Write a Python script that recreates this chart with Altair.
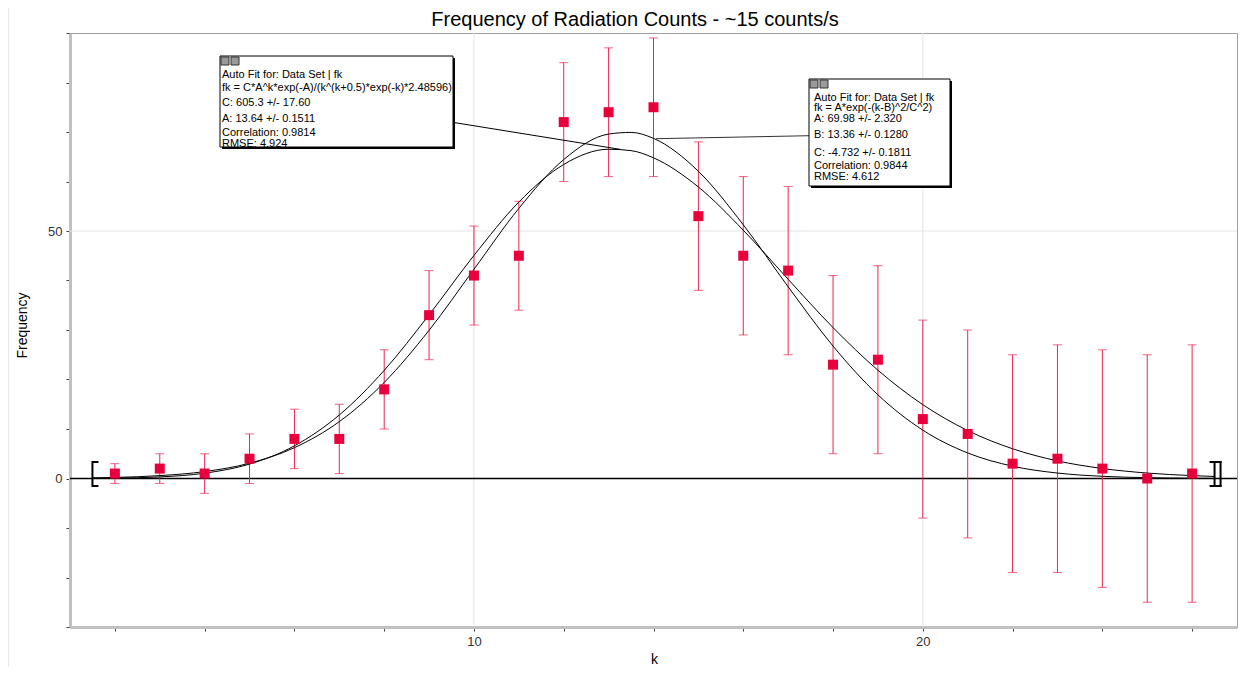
import altair as alt
import pandas as pd

# ---------------- data ----------------
k_obs = [2, 3, 4, 5, 6, 7, 8, 9, 10, 11, 12, 13, 14, 15, 16, 17, 18, 19, 20, 21, 22, 23, 24, 25, 26]
freq = [1, 2, 1, 4, 8, 8, 18, 33, 41, 45, 72, 74, 75, 53, 45, 42, 23, 24, 12, 9, 3, 4, 2, 0, 1]
err = [2, 3, 4, 5, 6, 7, 8, 9, 10, 11, 12, 13, 14, 15, 16, 17, 18, 19, 20, 21, 22, 23, 24, 25, 26]

curve_k = [1.5, 2, 3, 4, 5, 6, 7, 8, 9, 10, 11, 12, 13, 13.5, 14, 15, 16, 17, 18, 19, 20,
           21, 22, 23, 24, 25, 26, 26.5]
poisson_fit = [0.029, 0.0705, 0.316, 1.071, 2.910, 6.598, 12.83, 21.84, 33.07, 45.06, 55.85,
               63.44, 66.52, 66.24, 64.78, 58.89, 50.16, 40.25, 30.49, 21.88, 14.92, 9.69,
               6.01, 3.56, 2.02, 1.10, 0.579, 0.413]
gauss_fit = [0.131, 0.220, 0.580, 1.399, 3.086, 6.227, 11.49, 19.40, 29.94, 42.27, 54.57,
             64.43, 69.58, 69.92, 68.71, 62.06, 51.26, 38.73, 26.75, 16.90, 9.77, 5.16,
             2.49, 1.10, 0.446, 0.165, 0.056, 0.031]

fit_range = [1.5, 26.5]

x_ticks = [2, 4, 6, 8, 10, 12, 14, 16, 18, 20, 22, 24, 26]
y_ticks = [-30, -20, -10, 0, 10, 20, 30, 40, 50, 60, 70, 80, 90]
x_grid = [10, 20]
y_grid = [50]

title_text = "Frequency of Radiation Counts - ~15 counts/s"

box1_lines = ["Auto Fit for: Data Set | fk",
              "fk = C*A^k*exp(-A)/(k^(k+0.5)*exp(-k)*2.48596)",
              "C: 605.3 +/- 17.60",
              "A: 13.64 +/- 0.1511",
              "Correlation: 0.9814",
              "RMSE: 4.924"]
box2_lines = ["Auto Fit for: Data Set | fk",
              "fk = A*exp(-(k-B)^2/C^2)",
              "A: 69.98 +/- 2.320",
              "B: 13.36 +/- 0.1280",
              "C: -4.732 +/- 0.1811",
              "Correlation: 0.9844",
              "RMSE: 4.612"]

# ---------------- layout / style ----------------
W, H = 1167, 594
FONT = "Liberation Sans"
RED = "#e8003c"
ERR_RED = "#ec2451"

box1_y = [42, 54.5, 69.5, 86, 99.5, 111]
box2_y = [64.5, 75, 86, 102, 119.5, 133, 143.5]

obs = pd.DataFrame({"k": k_obs, "freq": freq, "err": err})
obs["lo"] = obs["freq"] - obs["err"]
obs["hi"] = obs["freq"] + obs["err"]

curves = pd.DataFrame({
    "k": curve_k * 2,
    "val": poisson_fit + gauss_fit,
    "fit": ["poisson"] * len(curve_k) + ["gauss"] * len(curve_k),
})

one = pd.DataFrame({"a": [0]})

xs = alt.Scale(domain=[1, 27], nice=False, zero=False)
ys = alt.Scale(domain=[-30, 90], nice=False, zero=False)

x_axis = alt.Axis(values=x_ticks, labelExpr="datum.value % 10 === 0 ? datum.label : ''",
                  title="k", titleX=584, titleY=32, titleBaseline="middle", grid=False)
y_axis = alt.Axis(values=y_ticks, labelExpr="datum.value % 50 === 0 ? datum.label : ''",
                  title="Frequency", titleX=-48, titleY=292, titleAngle=-90,
                  titleAlign="center", titleBaseline="middle", grid=False)


def X(f, **kw):
    return alt.X(f, scale=xs, axis=x_axis, **kw)


def Y(f, **kw):
    return alt.Y(f, scale=ys, axis=y_axis, **kw)


grid_x = alt.Chart(pd.DataFrame({"k": x_grid})).mark_rule(color="#e4e4e4", strokeWidth=1).encode(
    x=X("k:Q"))
grid_y = alt.Chart(pd.DataFrame({"freq": y_grid})).mark_rule(color="#e4e4e4", strokeWidth=1).encode(
    y=Y("freq:Q"))

zero_line = alt.Chart(pd.DataFrame({"freq": [0]})).mark_rule(color="black", strokeWidth=1.3).encode(
    y=Y("freq:Q"))

err_rules = alt.Chart(obs).mark_rule(color=ERR_RED, strokeWidth=1).encode(
    x=X("k:Q"), y=Y("lo:Q"), y2="hi:Q")
cap_lo = alt.Chart(obs).mark_tick(color=ERR_RED, orient="horizontal", size=9, thickness=1).encode(
    x=X("k:Q"), y=Y("lo:Q"))
cap_hi = alt.Chart(obs).mark_tick(color=ERR_RED, orient="horizontal", size=9, thickness=1).encode(
    x=X("k:Q"), y=Y("hi:Q"))

lines = alt.Chart(curves).mark_line(color="black", strokeWidth=1, interpolate="monotone").encode(
    x=X("k:Q"), y=Y("val:Q"), detail="fit:N")

points = alt.Chart(obs).mark_square(size=100, color=RED, opacity=1).encode(
    x=X("k:Q"), y=Y("freq:Q"))

# fit-range brackets
fr = pd.DataFrame({"k": [fit_range[0]]})
fr2 = pd.DataFrame({"k": [fit_range[1]]})
BT, BB = 428, 454
br_layers = [
    alt.Chart(fr).mark_rule(color="black", strokeWidth=2).encode(
        x=X("k:Q"), y=alt.value(BT), y2=alt.value(BB)),
    alt.Chart(fr).mark_rule(color="black", strokeWidth=2, x2Offset=6).encode(
        x=X("k:Q"), x2="k:Q", y=alt.value(BT + 1)),
    alt.Chart(fr).mark_rule(color="black", strokeWidth=2, x2Offset=6).encode(
        x=X("k:Q"), x2="k:Q", y=alt.value(BB - 1)),
    alt.Chart(fr2).mark_rule(color="black", strokeWidth=2).encode(
        x=X("k:Q"), y=alt.value(BT), y2=alt.value(BB)),
    alt.Chart(fr2).mark_rule(color="black", strokeWidth=2, xOffset=6).encode(
        x=X("k:Q"), y=alt.value(BT), y2=alt.value(BB)),
    alt.Chart(fr2).mark_rule(color="black", strokeWidth=2, xOffset=-5, x2Offset=7).encode(
        x=X("k:Q"), x2="k:Q", y=alt.value(BT + 1)),
    alt.Chart(fr2).mark_rule(color="black", strokeWidth=2, xOffset=-5, x2Offset=7).encode(
        x=X("k:Q"), x2="k:Q", y=alt.value(BB - 1)),
]

# leader lines
leaders = [
    alt.Chart(one).mark_rule(color="black", strokeWidth=1).encode(
        x=alt.value(385), y=alt.value(89.7), x2=alt.value(550), y2=alt.value(116.3)),
    alt.Chart(one).mark_rule(color="#333", strokeWidth=1).encode(
        x=alt.value(740), y=alt.value(102.7), x2=alt.value(586), y2=alt.value(105.7)),
]


def make_box(x0, x1, y0, y1, tx, lines_, ys_):
    layers = [
        alt.Chart(one).mark_rect(color="black").encode(
            x=alt.value(x0 + 2), x2=alt.value(x1 + 2), y=alt.value(y0 + 2), y2=alt.value(y1 + 2)),
        alt.Chart(one).mark_rect(fill="white", stroke="black", strokeWidth=1).encode(
            x=alt.value(x0), x2=alt.value(x1), y=alt.value(y0), y2=alt.value(y1)),
        alt.Chart(one).mark_rect(fill="#9a9a9a", stroke="#333", strokeWidth=1).encode(
            x=alt.value(x0 + 1), x2=alt.value(x0 + 9), y=alt.value(y0 + 1), y2=alt.value(y0 + 9)),
        alt.Chart(one).mark_rect(fill="#9a9a9a", stroke="#333", strokeWidth=1).encode(
            x=alt.value(x0 + 11), x2=alt.value(x0 + 19), y=alt.value(y0 + 1), y2=alt.value(y0 + 9)),
    ]
    for line, yy in zip(lines_, ys_):
        layers.append(
            alt.Chart(one).mark_text(align="left", baseline="middle", font=FONT, fontSize=11,
                                     color="black").encode(
                x=alt.value(tx), y=alt.value(yy), text=alt.value(line)))
    return layers


box1 = make_box(150, 383, 23, 114, 152, box1_lines, box1_y)
box2 = make_box(739, 880, 46, 153, 744, box2_lines, box2_y)

outer = alt.Chart(one).mark_rule(color="#d6d6d6", strokeWidth=1).encode(
    x=alt.value(-62), y=alt.value(-25), y2=alt.value(634))

title = alt.Chart(one).mark_text(align="center", baseline="alphabetic", font=FONT, fontSize=20,
                                 color="black").encode(
    x=alt.value(565), y=alt.value(-7), text=alt.value(title_text))

chart = alt.layer(
    outer, grid_x, grid_y, zero_line, err_rules, cap_lo, cap_hi, lines, points,
    *br_layers, *leaders, *box1, *box2, title
).properties(
    width=W, height=H,
    autosize=alt.AutoSizeParams(type="none"),
    padding={"left": 62, "top": 25, "right": 5, "bottom": 40},
).configure_axis(
    labelFont=FONT, labelFontSize=13, labelColor="#333",
    titleFont=FONT, titleFontSize=14, titleFontWeight="normal", titleColor="black",
    domainColor="#c0c0c0", domainWidth=3, tickColor="#444", tickSize=4, labelPadding=4,
).configure_view(stroke="#a0a0a0", strokeWidth=1)

chart.save("out.html", embed_options={"renderer": "svg", "actions": False})
